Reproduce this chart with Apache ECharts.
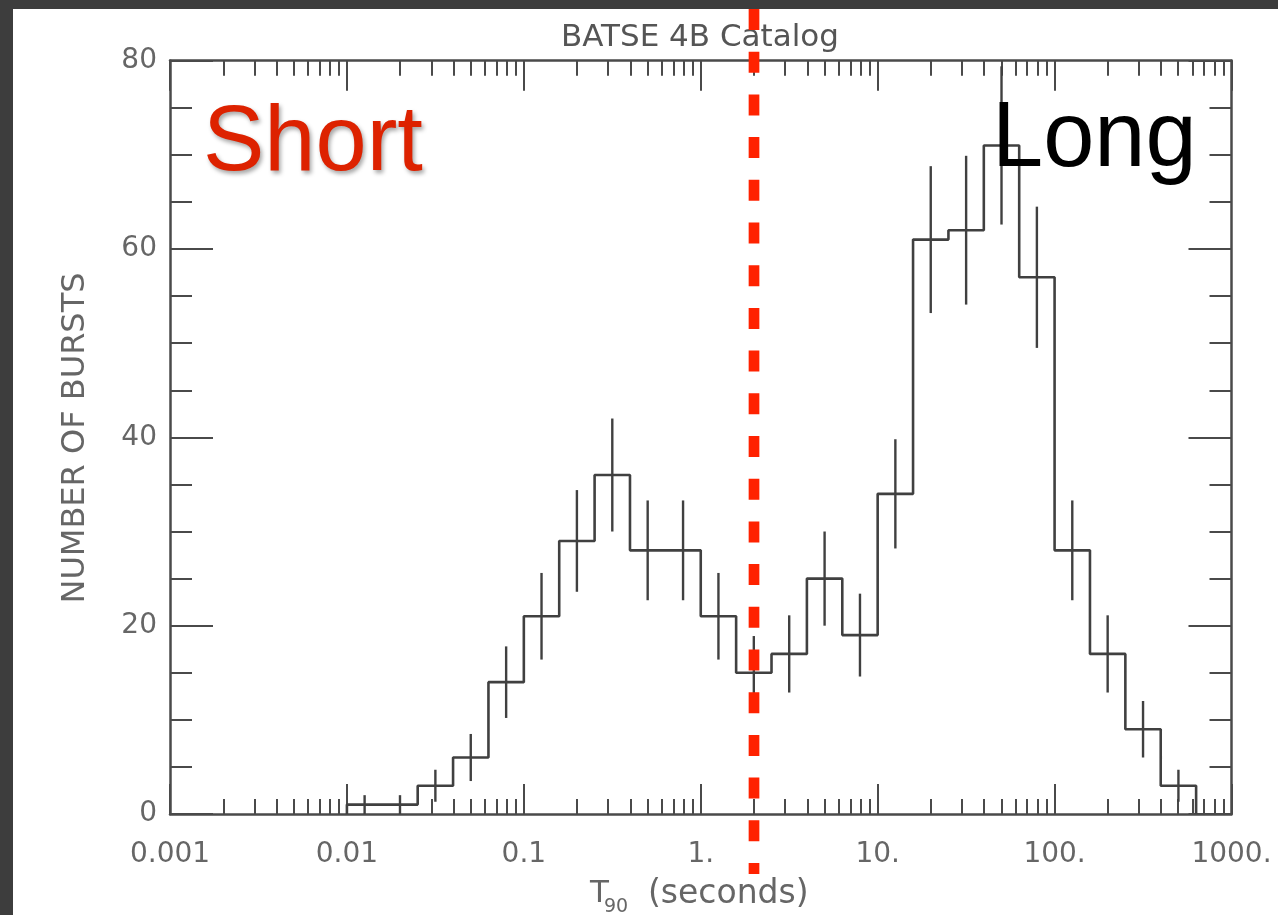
<!DOCTYPE html>
<html>
<head>
<meta charset="utf-8">
<script src="https://cdn.jsdelivr.net/npm/echarts@6/dist/echarts.min.js"></script>
<style>
  html, body { margin: 0; padding: 0; width: 1278px; height: 915px; overflow: hidden; background: #3d3d3d; }
  #chart { position: absolute; left: 13px; top: 9px; width: 1265px; height: 906px; background: #ffffff; }
</style>
</head>
<body>
<div id="chart"></div>
<script>
// Burst duration (T90) histogram: bins are 0.2 dex wide, lower edges given as log10(seconds)
const binEdgesLog10 = [-2.0, -1.8, -1.6, -1.4, -1.2, -1.0, -0.8, -0.6, -0.4, -0.2, 0.0, 0.2,
                       0.4, 0.6, 0.8, 1.0, 1.2, 1.4, 1.6, 1.8, 2.0, 2.2, 2.4, 2.6, 2.8];
const burstCounts   = [1, 1, 3, 6, 14, 21, 29, 36, 28, 28, 21, 15,
                       17, 25, 19, 34, 61, 62, 71, 57, 28, 17, 9, 3];
const countErrors   = [1, 1, 1.7, 2.5, 3.8, 4.6, 5.4, 6, 5.3, 5.3, 4.6, 3.9,
                       4.1, 5, 4.4, 5.8, 7.8, 7.9, 8.4, 7.5, 5.3, 4.1, 3, 1.7];

// Axis ticks
const xTickValues = [0.001, 0.01, 0.1, 1, 10, 100, 1000];
const xTickLabels = ['0.001', '0.01', '0.1', '1.', '10.', '100.', '1000.'];
const yTickLabels = ['0', '20', '40', '60', '80'];

// Short / long divide
const cutoffSeconds = 2;

const AXIS_COLOR = '#4a4a4a';
const LINE_COLOR = '#404040';
const TEXT_COLOR = '#666666';
const LABEL_FONT = 'DejaVu Sans';

const xMinorValues = [];
for (let d = -3; d < 3; d++) {
  for (let k = 2; k <= 9; k++) xMinorValues.push(+(k * Math.pow(10, d)).toPrecision(6));
}

// Step outline of the histogram
const edgeSec = binEdgesLog10.map(e => Math.pow(10, e));
const lastEdge = Math.pow(10, binEdgesLog10[binEdgesLog10.length - 1]);
const stepData = [[edgeSec[0], 0]];
burstCounts.forEach((c, i) => stepData.push([edgeSec[i], c]));
stepData.push([lastEdge, burstCounts[burstCounts.length - 1]]);
stepData.push([lastEdge, 0]);

// Error bars at the (geometric) bin centres
const binWidthLog10 = binEdgesLog10[1] - binEdgesLog10[0];
const errData = burstCounts.map((c, i) => [
  Math.pow(10, binEdgesLog10[i] + binWidthLog10 / 2),
  Math.max(0, c - countErrors[i]),
  c + countErrors[i]
]);

function xAxisDef(position, major) {
  return {
    type: 'log', logBase: 10, min: 0.001, max: 1000, position: position,
    axisLine: { show: major, onZero: false, lineStyle: { color: AXIS_COLOR, width: 2.5 } },
    axisTick: { show: true, inside: true, length: major ? 30 : 15,
                customValues: major ? xTickValues : xMinorValues,
                lineStyle: { color: AXIS_COLOR, width: 2 } },
    minorTick: { show: false },
    splitLine: { show: false },
    axisLabel: (position === 'bottom' && major) ? {
      show: true, customValues: xTickValues, margin: 27,
      fontFamily: LABEL_FONT, fontSize: 28, color: TEXT_COLOR,
      formatter: function (v) {
        let idx = 0, best = Infinity;
        xTickValues.forEach((t, i) => { const d = Math.abs(Math.log10(t) - Math.log10(v)); if (d < best) { best = d; idx = i; } });
        return xTickLabels[idx];
      }
    } : { show: false }
  };
}

function yAxisDef(position) {
  return {
    type: 'value', min: 0, max: 80, interval: 20, position: position,
    axisLine: { show: true, onZero: false, lineStyle: { color: AXIS_COLOR, width: 2.5 } },
    axisTick: { show: true, inside: true, length: 43, lineStyle: { color: AXIS_COLOR, width: 2 } },
    minorTick: { show: true, splitNumber: 4, length: 22, lineStyle: { color: AXIS_COLOR, width: 2 } },
    splitLine: { show: false },
    axisLabel: position === 'left' ? {
      show: true, margin: 13, fontFamily: LABEL_FONT, fontSize: 28, color: TEXT_COLOR,
      formatter: v => yTickLabels[Math.round(v / 20)]
    } : { show: false }
  };
}

const chart = echarts.init(document.getElementById('chart'), null, { renderer: 'canvas' });

chart.setOption({
  animation: false,
  backgroundColor: '#ffffff',
  grid: { left: 157, right: 46.5, top: 51.7, bottom: 101, containLabel: false },
  xAxis: [xAxisDef('bottom', true), xAxisDef('bottom', false), xAxisDef('top', true), xAxisDef('top', false)],
  yAxis: [yAxisDef('left'), yAxisDef('right')],
  graphic: [
    { type: 'text', x: 687, y: 29, z: 1,
      style: { text: 'BATSE 4B Catalog', font: '31px "DejaVu Sans"', fill: '#555555', align: 'center', verticalAlign: 'middle' } },
    { type: 'text', x: 63, y: 429, rotation: Math.PI / 2, z: 1,
      style: { text: 'NUMBER OF BURSTS', font: '32px "DejaVu Sans"', fill: TEXT_COLOR, align: 'center', verticalAlign: 'middle' } },
    { type: 'text', x: 577, y: 885, z: 1,
      style: { text: 'T', font: '31px "DejaVu Sans"', fill: TEXT_COLOR, align: 'left', verticalAlign: 'middle' } },
    { type: 'text', x: 591, y: 898, z: 1,
      style: { text: '90', font: '19px "DejaVu Sans"', fill: TEXT_COLOR, align: 'left', verticalAlign: 'middle' } },
    { type: 'text', x: 635, y: 885, z: 1,
      style: { text: '(seconds)', font: '33px "DejaVu Sans"', fill: TEXT_COLOR, align: 'left', verticalAlign: 'middle' } },
    { type: 'text', x: 190, y: 136, z: 5,
      style: { text: 'Short', font: '92px "Liberation Sans"', fill: '#dd2200', align: 'left', verticalAlign: 'middle',
               shadowColor: 'rgba(0,0,0,0.35)', shadowBlur: 4, shadowOffsetX: 2, shadowOffsetY: 3,
               textShadowColor: 'rgba(0,0,0,0.35)', textShadowBlur: 4, textShadowOffsetX: 2, textShadowOffsetY: 3 } },
    { type: 'text', x: 979, y: 132, z: 5,
      style: { text: 'Long', font: '92px "Liberation Sans"', fill: '#000000', align: 'left', verticalAlign: 'middle' } }
  ],
  series: [
    {
      type: 'line', xAxisIndex: 0, yAxisIndex: 0, step: 'end', data: stepData,
      symbol: 'none', lineStyle: { color: LINE_COLOR, width: 2.6 }, z: 3, silent: true
    },
    {
      type: 'custom', xAxisIndex: 0, yAxisIndex: 0, data: errData, z: 3, silent: true,
      renderItem: function (params, api) {
        const lo = api.coord([api.value(0), api.value(1)]);
        const hi = api.coord([api.value(0), api.value(2)]);
        return { type: 'line', shape: { x1: lo[0], y1: lo[1], x2: hi[0], y2: hi[1] },
                 style: { stroke: LINE_COLOR, lineWidth: 2.4 } };
      }
    },
    {
      type: 'custom', xAxisIndex: 0, yAxisIndex: 0, data: [[cutoffSeconds, 0]], z: 100, clip: false, silent: true,
      renderItem: function (params, api) {
        const p = api.coord([api.value(0), api.value(1)]);
        return { type: 'line', z2: 100, shape: { x1: p[0], y1: 0, x2: p[0], y2: 865 },
                 style: { stroke: '#ff2200', lineWidth: 10.7, lineDash: [21, 21.7], lineCap: 'butt' } };
      }
    }
  ]
});
</script>
</body>
</html>
